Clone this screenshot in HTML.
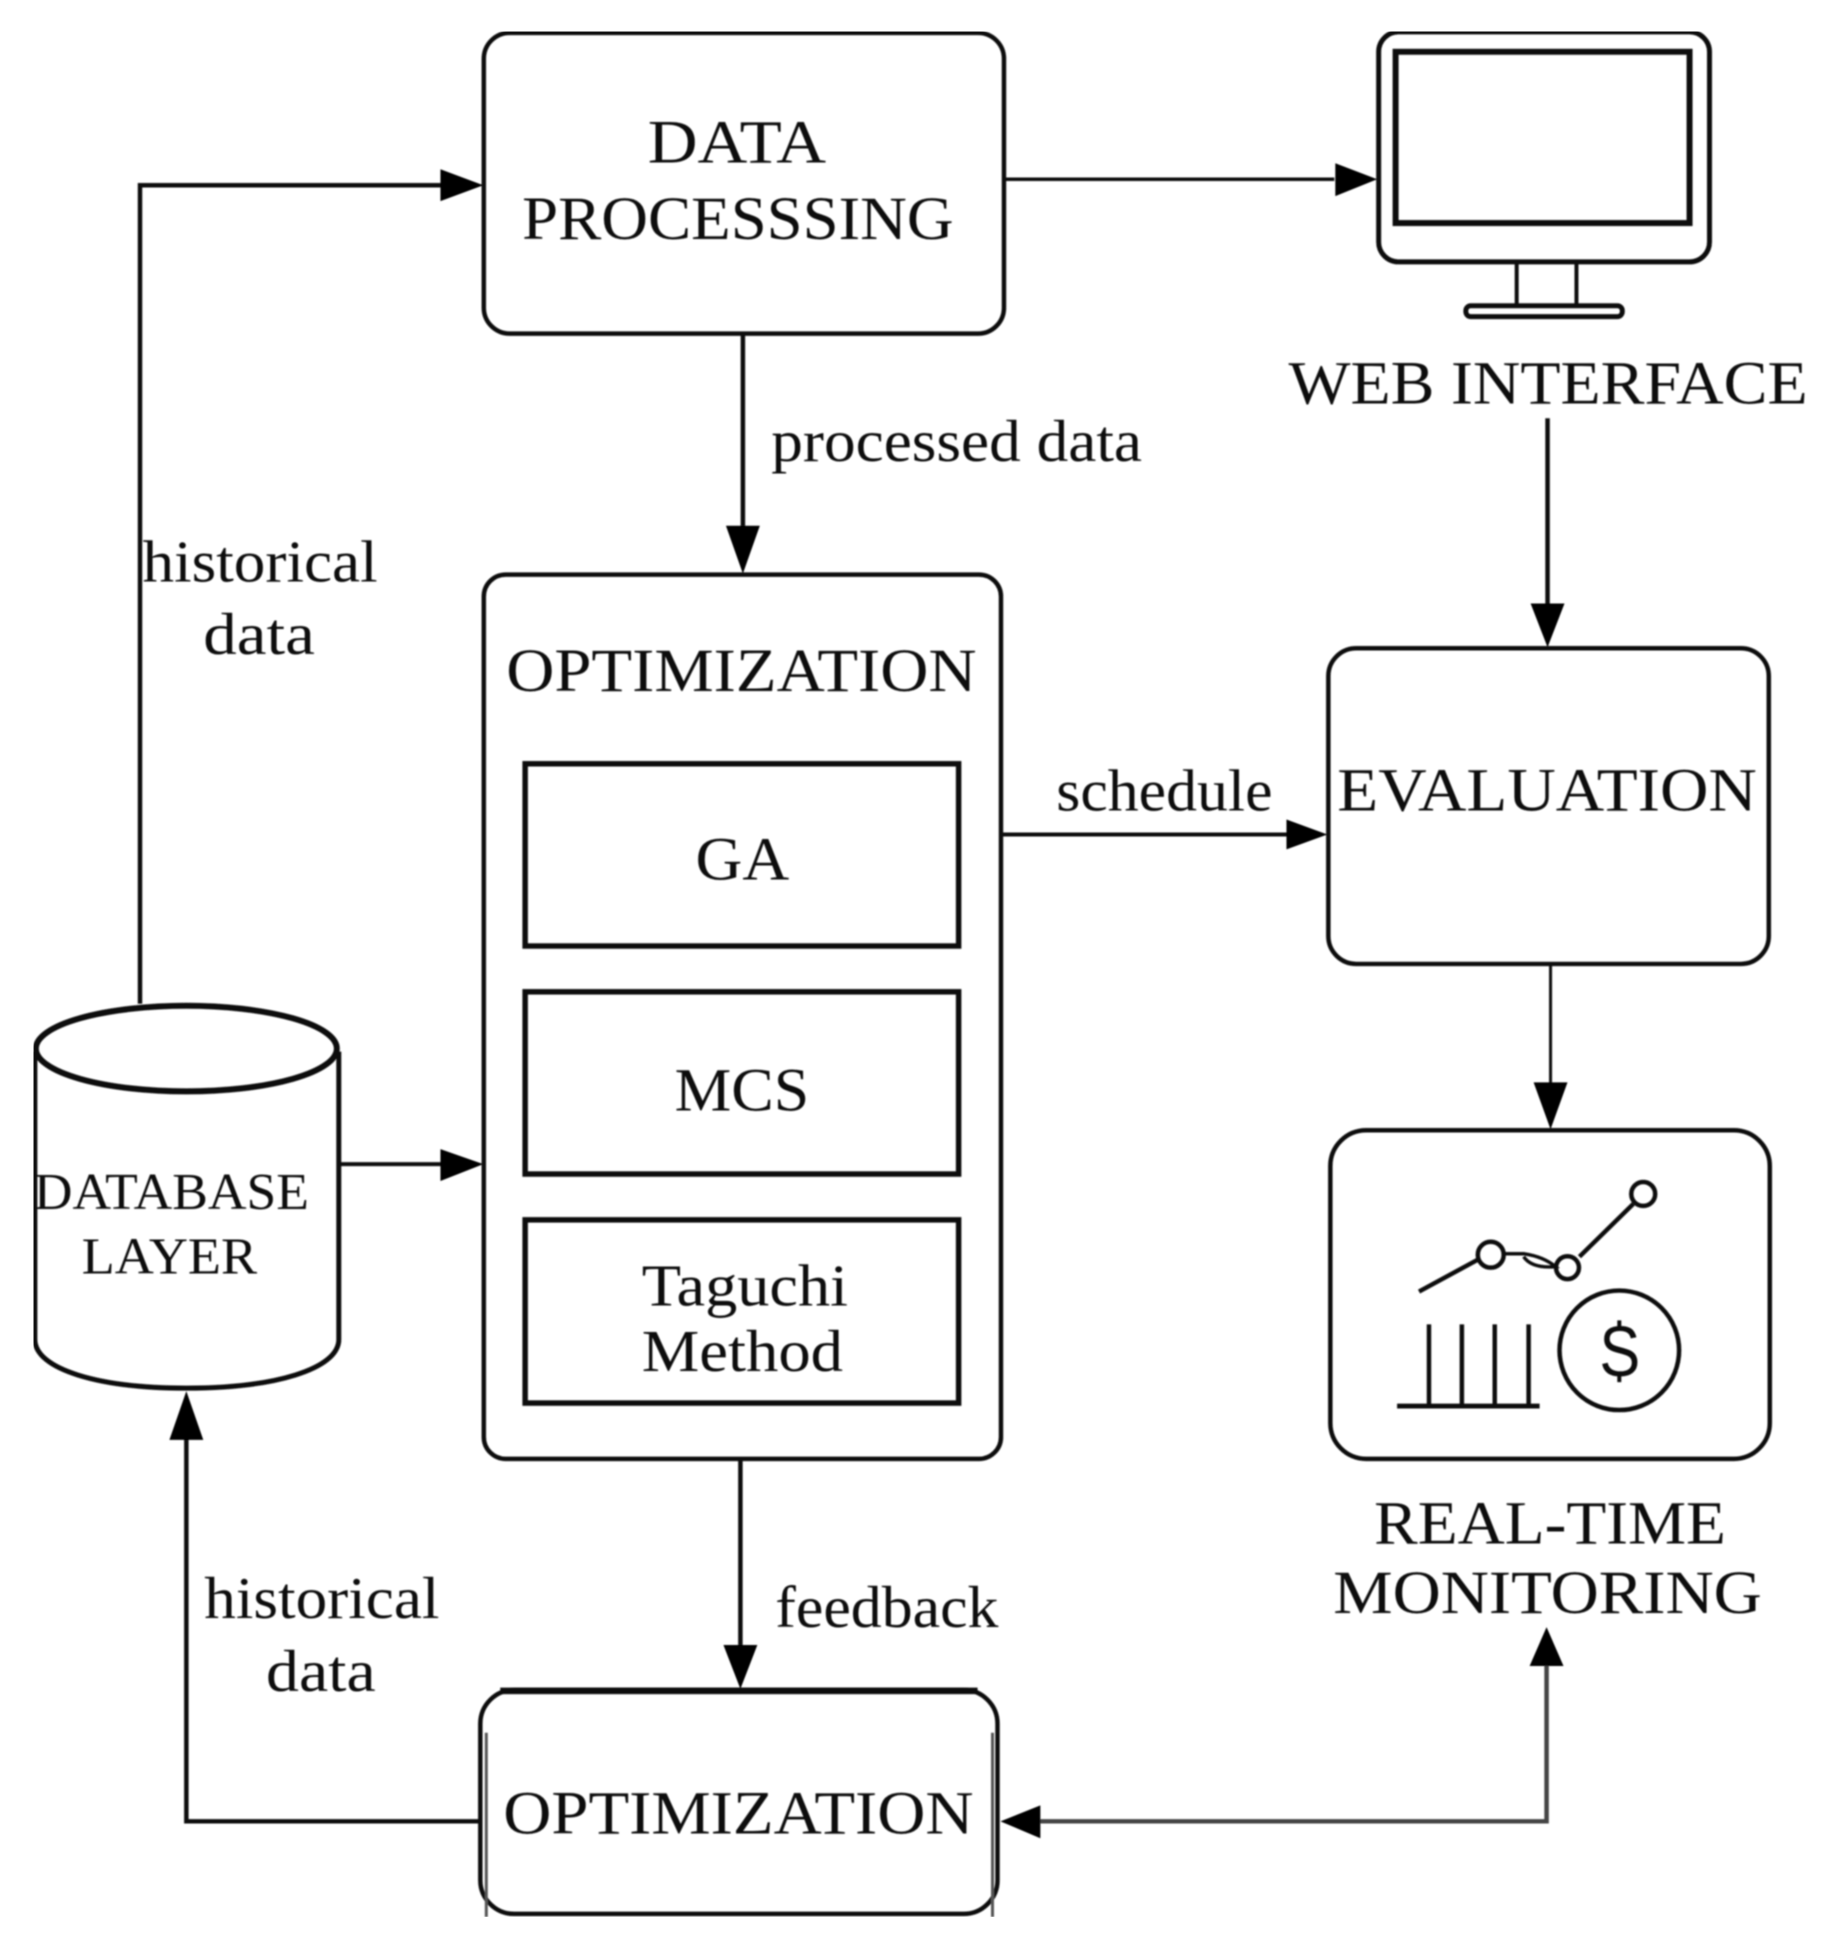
<!DOCTYPE html>
<html><head><meta charset="utf-8"><style>
html,body{margin:0;padding:0;background:#fff}
svg{display:block}
text{font-family:"Liberation Serif",serif;fill:#111}
</style></head><body>
<svg width="1826" height="1941" viewBox="0 0 1826 1941" xmlns="http://www.w3.org/2000/svg">
<defs><filter id="b" x="0" y="0" width="100%" height="100%"><feGaussianBlur stdDeviation="0.7"/></filter></defs>
<rect width="1826" height="1941" fill="#fff"/>
<g transform="translate(-1 0) scale(0.9965 0.9958)" filter="url(#b)">
<g fill="none" stroke="#111" stroke-width="4.5">
<rect x="486.5" y="33" width="522" height="302" rx="26"/>
<rect x="486.5" y="577" width="519" height="888" rx="22"/>
<rect x="528" y="767" width="435" height="183" stroke-width="5.5"/>
<rect x="528" y="996" width="435" height="183" stroke-width="5.5"/>
<rect x="528" y="1225" width="435" height="184" stroke-width="5.5"/>
<rect x="1334" y="651" width="442" height="317" rx="28"/>
<rect x="1336" y="1135" width="441" height="330" rx="36"/>
<rect x="483" y="1697" width="519" height="225" rx="34"/>
<path d="M489 1740V1925M997 1740V1925" stroke-width="3" stroke="#555"/>
<path d="M503 1698H982" stroke-width="6.5"/>
<!-- monitor -->
<rect x="1384.5" y="32" width="332" height="231" rx="20" stroke-width="5"/>
<rect x="1401.5" y="52" width="295" height="172" stroke-width="6"/>
<path d="M1523 263V306M1583 263V306" stroke-width="4"/>
<rect x="1472" y="307" width="157" height="11" rx="5" stroke-width="5"/>
<!-- cylinder -->
<path d="M36 1056V1345C36 1375 100 1394 188 1394C276 1394 341 1375 341 1345V1056" stroke-width="5"/>
<ellipse cx="188" cy="1053" rx="151" ry="43" stroke-width="6"/>
<!-- connectors -->
<path d="M141.5 1008V186H450"/>
<path d="M746.5 335V535"/>
<path d="M1008 180H1340" stroke-width="3.5"/>
<path d="M1554 420V612"/>
<path d="M1005 838H1295" stroke-width="4"/>
<path d="M1557 969V1092" stroke-width="3"/>
<path d="M342 1169H445" stroke-width="4"/>
<path d="M744 1466V1655"/>
<path d="M482 1829H188V1445"/>
<path d="M1040 1829H1553V1670" stroke="#444"/>
<!-- chart icon -->
<path d="M1425 1297L1484 1265M1586 1262L1640 1209" stroke-width="4.5"/>
<path d="M1510 1259H1530Q1550 1262 1562 1272Q1538 1274 1530 1262" stroke-width="3.5"/>
<circle cx="1497" cy="1260" r="13" stroke-width="4.5"/>
<circle cx="1574" cy="1273" r="11.5" stroke-width="4.5"/>
<circle cx="1650" cy="1199" r="12" stroke-width="4.5"/>
<path d="M1435 1330V1411M1468 1330V1411M1501 1330V1411M1535 1330V1411" stroke-width="4.5"/>
<path d="M1403 1412H1546" stroke-width="5"/>
<circle cx="1626" cy="1356" r="60" stroke-width="4.5"/>
<path d="M1626 1326V1333M1626 1381V1388" stroke-width="4"/>
</g>
<g fill="#000">
<path d="M486 186L443 170V202Z"/>
<path d="M746.5 576L729.5 528H763.5Z"/>
<path d="M1383 180L1341 164V197Z"/>
<path d="M1554 650L1537 606H1571Z"/>
<path d="M1333 838L1292 823V853Z"/>
<path d="M1557 1134L1540 1087H1574Z"/>
<path d="M486 1169L443 1154V1186Z"/>
<path d="M744 1696L727 1652H761Z"/>
<path d="M188 1397L171 1446H205Z"/>
<path d="M1005 1829L1045 1813V1846Z"/>
<path d="M1553 1634L1536 1673H1570Z"/>
</g>
<text x="1606" y="1382" font-size="72" textLength="41" lengthAdjust="spacingAndGlyphs" style="font-family:'Liberation Sans',sans-serif">S</text>
<g font-size="62">
<text x="651" y="163" textLength="179" lengthAdjust="spacingAndGlyphs">DATA</text>
<text x="525" y="240" textLength="433" lengthAdjust="spacingAndGlyphs">PROCESSSING</text>
<text x="1294" y="405" textLength="521" lengthAdjust="spacingAndGlyphs">WEB INTERFACE</text>
<text x="509" y="694" textLength="472" lengthAdjust="spacingAndGlyphs">OPTIMIZATION</text>
<text x="699" y="883" textLength="94" lengthAdjust="spacingAndGlyphs">GA</text>
<text x="678" y="1115" textLength="135" lengthAdjust="spacingAndGlyphs">MCS</text>
<text x="1343" y="814" textLength="421" lengthAdjust="spacingAndGlyphs">EVALUATION</text>
<text x="1380" y="1550" textLength="353" lengthAdjust="spacingAndGlyphs">REAL-TIME</text>
<text x="1339" y="1620" textLength="430" lengthAdjust="spacingAndGlyphs">MONITORING</text>
<text x="506" y="1841" textLength="472" lengthAdjust="spacingAndGlyphs">OPTIMIZATION</text>
</g>
<g font-size="60">
<text x="775" y="463" textLength="372" lengthAdjust="spacingAndGlyphs">processed data</text>
<text x="144" y="584" textLength="236" lengthAdjust="spacingAndGlyphs">historical</text>
<text x="205" y="657" textLength="112" lengthAdjust="spacingAndGlyphs">data</text>
<text x="1061" y="814" textLength="217" lengthAdjust="spacingAndGlyphs">schedule</text>
<text x="645" y="1311" textLength="207" lengthAdjust="spacingAndGlyphs">Taguchi</text>
<text x="645" y="1377" textLength="202" lengthAdjust="spacingAndGlyphs">Method</text>
<text x="779" y="1634" textLength="224" lengthAdjust="spacingAndGlyphs">feedback</text>
<text x="206" y="1625" textLength="236" lengthAdjust="spacingAndGlyphs">historical</text>
<text x="268" y="1698" textLength="110" lengthAdjust="spacingAndGlyphs">data</text>
</g>
<g font-size="52">
<text x="35" y="1214" textLength="276" lengthAdjust="spacingAndGlyphs">DATABASE</text>
<text x="83" y="1279" textLength="176" lengthAdjust="spacingAndGlyphs">LAYER</text>
</g>
</g>
</svg>
</body></html>
